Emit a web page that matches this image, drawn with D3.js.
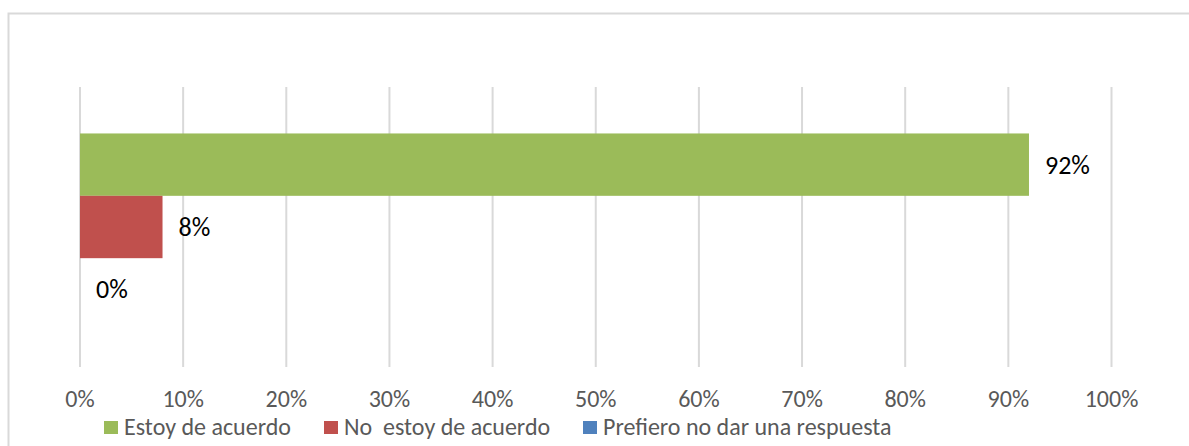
<!DOCTYPE html>
<html>
<head>
<meta charset="utf-8">
<script src="https://cdn.jsdelivr.net/npm/d3@7"></script>
<style>
  html, body { margin: 0; padding: 0; background: #fff; }
  svg text { font-family: Calibri, Carlito, Lato, sans-serif; }
</style>
</head>
<body>
<svg id="chart" width="1189" height="446"></svg>
<script>
// series (one question, three answers)
var series = ["Estoy de acuerdo", "No  estoy de acuerdo", "Prefiero no dar una respuesta"];
var values = [0.92, 0.08, 0.00];
var valueLabels = ["92%", "8%", "0%"];
var colors = ["#9BBB59", "#C0504D", "#4F81BD"];
var ticks = [0, 0.1, 0.2, 0.3, 0.4, 0.5, 0.6, 0.7, 0.8, 0.9, 1.0];

var svg = d3.select("#chart");

// chart frame
svg.append("rect")
    .attr("x", 8.5).attr("y", 13.5)
    .attr("width", 1200).attr("height", 460)
    .attr("fill", "none")
    .attr("stroke", "#d9d9d9")
    .attr("stroke-width", 2);

var plotTop = 87, plotBottom = 367;

var x = d3.scaleLinear().domain([0, 1]).range([80, 1111.5]);
var y = d3.scaleBand().domain(series).range([plotTop, plotBottom]).paddingInner(0).paddingOuter(0.745);

// vertical gridlines
svg.append("g").selectAll("line")
    .data(ticks)
    .enter().append("line")
    .attr("x1", function(d) { return x(d); })
    .attr("x2", function(d) { return x(d); })
    .attr("y1", plotTop).attr("y2", plotBottom)
    .attr("stroke", "#d9d9d9")
    .attr("stroke-width", 2);

// tick labels
svg.append("g").selectAll("text")
    .data(ticks)
    .enter().append("text")
    .attr("x", function(d) { return x(d); })
    .attr("y", 399)
    .attr("dy", "0.35em")
    .attr("text-anchor", "middle")
    .attr("font-size", 24)
    .attr("fill", "#595959")
    .text(function(d) { return d3.format(".0%")(d); });

// bars
svg.append("g").selectAll("rect")
    .data(series)
    .enter().append("rect")
    .attr("x", x(0))
    .attr("y", function(d) { return y(d); })
    .attr("width", function(d, i) { return x(values[i]) - x(0); })
    .attr("height", y.bandwidth())
    .attr("fill", function(d, i) { return colors[i]; });

// data labels
svg.append("g").selectAll("text")
    .data(series)
    .enter().append("text")
    .attr("x", function(d, i) { return x(values[i]) + 16; })
    .attr("y", function(d) { return y(d) + y.bandwidth() / 2; })
    .attr("dy", "0.35em")
    .attr("font-size", 26)
    .attr("fill", "#000")
    .text(function(d, i) { return valueLabels[i]; });

// legend
var legendX = [104, 324, 583];
var legend = svg.append("g").selectAll("g")
    .data(series)
    .enter().append("g")
    .attr("transform", function(d, i) { return "translate(" + legendX[i] + ",427)"; });

legend.append("rect")
    .attr("x", 0).attr("y", -6)
    .attr("width", 14).attr("height", 13)
    .attr("fill", function(d, i) { return colors[i]; });

legend.append("text")
    .attr("x", 20)
    .attr("dy", "0.35em")
    .attr("font-size", 24)
    .attr("fill", "#595959")
    .style("white-space", "pre")
    .text(function(d) { return d; });
</script>
</body>
</html>
